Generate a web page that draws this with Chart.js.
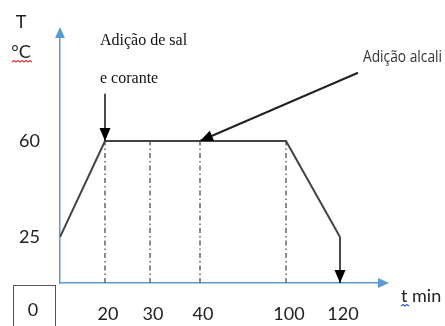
<!DOCTYPE html>
<html>
<head>
<meta charset="utf-8">
<script src="https://cdn.jsdelivr.net/npm/chart.js@4.4.1/dist/chart.umd.min.js"></script>
<style>
  body { margin: 0; background: #fff; }
  canvas { display: block; }
</style>
</head>
<body>
<canvas id="processChart" width="445" height="326"></canvas>
<script>
const timeTicks = [20, 30, 40, 100, 120];
const tempTicks = [25, 60];
const profileTime = [0, 20, 100, 120];
const profileTemp = [25, 60, 60, 25];
const guideTimes = [20, 30, 40, 100];   // linhas tracejadas até o patamar
const plateauTemp = 60;
const dropTime = [120, 120];            // seta final até o eixo
const dropTemp = [25, 0];
const salArrowTime = [20, 20];
const salArrowTemp = [78, 60];
const alcaliArrowTime = [129, 40];
const alcaliArrowTemp = [86, 60];

// o desenho original não é linear: escala por trechos
const xBreaks = [0, 20, 30, 40, 100, 120, 140];
const xStops = [0, 0.1406, 0.2813, 0.4375, 0.7063, 0.875, 1];
const yBreaks = [0, 25, 60, 100];
const yStops = [0, 0.1862, 0.5749, 1];

class PiecewiseScale extends Chart.LinearScale {
  toDecimal(v) {
    const b = this.options.breaks, s = this.options.stops;
    if (v <= b[0]) return s[0];
    for (let i = 1; i < b.length; i++) {
      if (v <= b[i]) return s[i - 1] + (v - b[i - 1]) / (b[i] - b[i - 1]) * (s[i] - s[i - 1]);
    }
    return s[s.length - 1];
  }
  getPixelForValue(v) {
    return v == null ? NaN : this.getPixelForDecimal(this.toDecimal(v));
  }
  getValueForPixel(p) {
    const d = this.getDecimalForPixel(p);
    const b = this.options.breaks, s = this.options.stops;
    for (let i = 1; i < s.length; i++) {
      if (d <= s[i]) return b[i - 1] + (d - s[i - 1]) / (s[i] - s[i - 1]) * (b[i] - b[i - 1]);
    }
    return b[b.length - 1];
  }
}
PiecewiseScale.id = 'piecewise';
PiecewiseScale.defaults = Chart.LinearScale.defaults;
Chart.register(PiecewiseScale);

const pts = (xs, ys) => xs.map((x, i) => ({ x: x, y: ys[i] }));

const datasets = [
  { data: pts(profileTime, profileTemp), borderColor: '#444', borderWidth: 2 },
  { data: pts(dropTime, dropTemp), borderColor: '#111', borderWidth: 1.5, arrowHead: true },
  { data: pts(salArrowTime, salArrowTemp), borderColor: '#111', borderWidth: 1.5, arrowHead: true },
  { data: pts(alcaliArrowTime, alcaliArrowTemp), borderColor: '#222', borderWidth: 2, arrowHead: true }
];
guideTimes.forEach(t => {
  datasets.push({
    data: pts([t, t], [0, plateauTemp]),
    borderColor: '#666', borderWidth: 1.5, borderDash: [5, 3, 1.5, 3]
  });
});

// pontas de seta nas linhas marcadas
const arrowHeads = {
  id: 'arrowHeads',
  afterDatasetsDraw(chart) {
    const ctx = chart.ctx;
    chart.data.datasets.forEach((ds, i) => {
      if (!ds.arrowHead) return;
      const els = chart.getDatasetMeta(i).data;
      const a = els[els.length - 2], b = els[els.length - 1];
      const ang = Math.atan2(b.y - a.y, b.x - a.x);
      ctx.save();
      ctx.translate(b.x, b.y);
      ctx.rotate(ang);
      ctx.fillStyle = '#000';
      ctx.beginPath();
      ctx.moveTo(0, 0);
      ctx.lineTo(-13, -5.5);
      ctx.lineTo(-13, 5.5);
      ctx.closePath();
      ctx.fill();
      ctx.restore();
    });
  }
};

function wavy(ctx, x0, x1, y, color) {
  ctx.save();
  ctx.strokeStyle = color;
  ctx.lineWidth = 1.2;
  ctx.beginPath();
  ctx.moveTo(x0, y);
  let up = true;
  for (let x = x0; x < x1; x += 2) {
    ctx.lineTo(x + 2, up ? y - 1.5 : y);
    up = !up;
  }
  ctx.stroke();
  ctx.restore();
}

// texto comprimido na horizontal até a largura pedida
function narrowText(ctx, txt, x, y, width) {
  const w = ctx.measureText(txt).width;
  ctx.save();
  ctx.translate(x, y);
  ctx.scale(width / w, 1);
  ctx.fillText(txt, 0, 0);
  ctx.restore();
}

// setas dos eixos e textos soltos
const decorations = {
  id: 'decorations',
  afterDraw(chart) {
    const ctx = chart.ctx, a = chart.chartArea;
    ctx.save();
    ctx.fillStyle = '#5b9bd5';
    ctx.beginPath();
    ctx.moveTo(a.left, a.top - 9);
    ctx.lineTo(a.left - 5, a.top + 2);
    ctx.lineTo(a.left + 5, a.top + 2);
    ctx.closePath();
    ctx.fill();
    ctx.beginPath();
    ctx.moveTo(a.right + 9, a.bottom);
    ctx.lineTo(a.right - 2, a.bottom - 5);
    ctx.lineTo(a.right - 2, a.bottom + 5);
    ctx.closePath();
    ctx.fill();

    ctx.fillStyle = '#222';
    ctx.textBaseline = 'alphabetic';
    ctx.textAlign = 'center';
    ctx.font = '18px Lato';
    ctx.fillText('T', 21, 28);
    ctx.fillText('°C', 21, 58);
    wavy(ctx, 12, 31, 62, '#e03a3a');

    ctx.textAlign = 'left';
    ctx.fillText('t min', 401, 302);
    wavy(ctx, 401, 409, 306, '#3a5ee0');

    ctx.font = '16px "Liberation Serif"';
    ctx.fillStyle = '#111';
    ctx.fillText('Adição de sal', 100, 45);
    ctx.fillText('e corante', 100, 83);

    ctx.font = '17px "Open Sans"';
    ctx.fillStyle = '#333';
    narrowText(ctx, 'Adição alcali', 363, 62, 79);

    ctx.strokeStyle = '#555';
    ctx.lineWidth = 1;
    ctx.strokeRect(13.5, 285.5, 42, 50);
    ctx.fillStyle = '#222';
    ctx.font = '18px Lato';
    ctx.textAlign = 'center';
    ctx.fillText('0', 33, 316);
    ctx.restore();
  }
};

new Chart(document.getElementById('processChart'), {
  type: 'line',
  data: { datasets: datasets },
  options: {
    responsive: false,
    animation: false,
    devicePixelRatio: 1,
    layout: { padding: { top: 36, right: 65, left: 0, bottom: 0 } },
    elements: { point: { radius: 0 }, line: { tension: 0 } },
    plugins: { legend: { display: false }, tooltip: { enabled: false } },
    scales: {
      x: {
        type: 'piecewise', min: 0, max: 140,
        breaks: xBreaks, stops: xStops,
        grid: { display: false, drawTicks: false },
        border: { display: true, color: '#5b9bd5', width: 1.5 },
        ticks: { color: '#222', font: { family: 'Lato', size: 18 }, padding: 20, labelOffset: 3, maxRotation: 0, autoSkip: false },
        afterBuildTicks: s => { s.ticks = timeTicks.map(v => ({ value: v })); },
        afterFit: s => { s.height = 43; }
      },
      y: {
        type: 'piecewise', min: 0, max: 100,
        breaks: yBreaks, stops: yStops,
        grid: { display: false, drawTicks: false },
        border: { display: true, color: '#5b9bd5', width: 1.5 },
        ticks: { color: '#222', font: { family: 'Lato', size: 18 }, padding: 20, autoSkip: false },
        afterBuildTicks: s => { s.ticks = tempTicks.map(v => ({ value: v })); },
        afterFit: s => { s.width = 60; }
      }
    }
  },
  plugins: [arrowHeads, decorations]
});
</script>
</body>
</html>
